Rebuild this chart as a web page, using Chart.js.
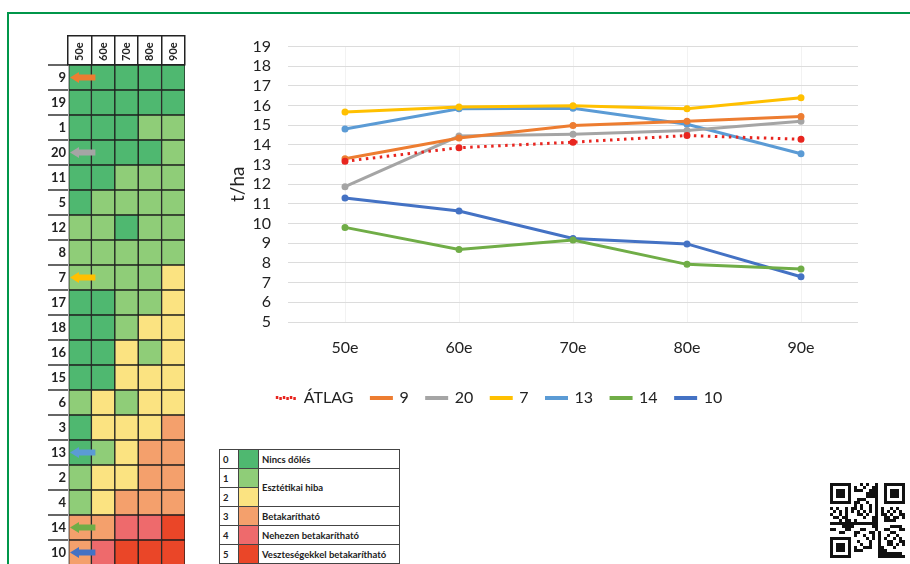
<!DOCTYPE html>
<html lang="hu">
<head>
<meta charset="utf-8">
<script src="https://cdn.jsdelivr.net/npm/chart.js@4.4.1/dist/chart.umd.min.js"></script>
<style>
  html, body { margin: 0; padding: 0; }
  body { width: 910px; height: 564px; overflow: hidden; background: #fff; position: relative; font-family: Lato, "Open Sans", sans-serif; }
  #frame { position: absolute; left: 7px; top: 12px; width: 930px; height: 600px; border-left: 2px solid #00964a; border-top: 2px solid #00964a; }
  #heatWrap { position: absolute; left: 48px; top: 35px; width: 140px; height: 530px; }
  #lineWrap { position: absolute; left: 140px; top: 20px; width: 730px; height: 396px; }
  #keyTable { position: absolute; left: 219px; top: 449px; width: 181px; border-collapse: collapse; font: bold 9.5px Lato, sans-serif; color: #222; }
  #keyTable td { border: 1.5px solid #444; height: 18px; padding: 0 3px; }
  #keyTable td.num { width: 12px; text-align: left; }
  #keyTable td.sw { width: 19px; padding: 0; }
  #qr { position: absolute; left: 830px; top: 483px; }
</style>
</head>
<body>
<div id="frame"></div>
<div id="heatWrap"><canvas id="heat"></canvas></div>
<div id="lineWrap"><canvas id="lines"></canvas></div>
<table id="keyTable"></table>
<canvas id="qr" width="75" height="75"></canvas>
<script>
// évtizedek
const decades = ["50e", "60e", "70e", "80e", "90e"];

// hibrid sorok a táblázatban (fentről lefelé)
const rowLabels = ["9", "19", "1", "20", "11", "5", "12", "8", "7", "17", "18", "16", "15", "6", "3", "13", "2", "4", "14", "10"];

// dőlési fokozat oszloponként (0-5)
const lvl50 = [0, 0, 0, 0, 0, 0, 1, 1, 1, 0, 0, 0, 0, 1, 0, 0, 1, 1, 3, 3];
const lvl60 = [0, 0, 0, 0, 0, 1, 1, 1, 1, 0, 0, 0, 0, 2, 2, 1, 2, 2, 3, 4];
const lvl70 = [0, 0, 0, 0, 1, 1, 0, 1, 1, 1, 1, 2, 2, 1, 2, 2, 2, 3, 4, 5];
const lvl80 = [0, 0, 1, 0, 1, 1, 1, 1, 1, 1, 2, 1, 2, 2, 2, 3, 3, 3, 4, 5];
const lvl90 = [0, 0, 1, 1, 1, 1, 1, 1, 2, 2, 2, 2, 2, 2, 3, 3, 3, 3, 5, 5];
const heatLevels = [lvl50, lvl60, lvl70, lvl80, lvl90];

// jelmagyarázat
const levelNums = ["0", "1", "2", "3", "4", "5"];
const levelColors = ["#4fb870", "#8fcd78", "#fbe381", "#f4a06c", "#ee6a6c", "#ea4628"];
const levelNames = ["Nincs dőlés", "Esztétikai hiba", null, "Betakarítható", "Nehezen betakarítható", "Veszteségekkel betakarítható"];

// termés t/ha
const atlag = [13.17, 13.86, 14.14, 14.48, 14.29];
const s9 = [13.3, 14.35, 14.99, 15.2, 15.45];
const s20 = [11.88, 14.45, 14.54, 14.73, 15.2];
const s7 = [15.68, 15.93, 15.99, 15.84, 16.4];
const s13 = [14.81, 15.84, 15.87, 15.05, 13.55];
const s14 = [9.81, 8.69, 9.17, 7.93, 7.7];
const s10 = [11.3, 10.64, 9.25, 8.97, 7.3];

const seriesNames = ["ÁTLAG", "9", "20", "7", "13", "14", "10"];
const seriesValues = [atlag, s9, s20, s7, s13, s14, s10];
const seriesColors = ["#e8251f", "#ED7D31", "#A5A5A5", "#FFC000", "#5B9BD5", "#70AD47", "#4472C4"];

Chart.defaults.font.family = 'Lato, "Open Sans", sans-serif';

// nyilak a kiemelt sorokhoz + fejléc feliratok
const arrowPlugin = {
  id: "rowArrows",
  afterDatasetsDraw(chart) {
    const { ctx, scales } = chart;
    const x = scales.x, y = scales.y;
    seriesNames.forEach((name, i) => {
      const idx = rowLabels.indexOf(name);
      if (idx < 0) return;
      const cy = y.getPixelForValue(idx);
      const x0 = x.getPixelForValue(0) + 2;
      const x1 = x.getPixelForValue(1) + 4;
      ctx.save();
      ctx.fillStyle = seriesColors[i];
      ctx.beginPath();
      ctx.moveTo(x0, cy);
      ctx.lineTo(x0 + 9, cy - 5.5);
      ctx.lineTo(x0 + 9, cy - 3);
      ctx.lineTo(x1, cy - 3);
      ctx.lineTo(x1, cy + 3);
      ctx.lineTo(x0 + 9, cy + 3);
      ctx.lineTo(x0 + 9, cy + 5.5);
      ctx.closePath();
      ctx.fill();
      ctx.restore();
    });
    ctx.save();
    ctx.strokeStyle = "#222";
    ctx.lineWidth = 1.5;
    ctx.beginPath();
    ctx.moveTo(x.left, 0.75);
    ctx.lineTo(x.right, 0.75);
    ctx.stroke();
    ctx.fillStyle = "#222";
    ctx.font = 'bold 11px Lato, "Open Sans", sans-serif';
    ctx.textAlign = "left";
    ctx.textBaseline = "middle";
    decades.forEach((d, i) => {
      ctx.save();
      ctx.translate(x.getPixelForValue(i + 0.5), chart.chartArea.top - 4);
      ctx.rotate(-Math.PI / 2);
      ctx.fillText(d, 0, 0);
      ctx.restore();
    });
    ctx.restore();
  }
};

const heatDatasets = decades.map((d, i) => ({
  label: d,
  data: rowLabels.map(() => 1),
  backgroundColor: heatLevels[i].map((l) => levelColors[l]),
  borderColor: "#1e1e1e",
  borderWidth: 1,
  borderSkipped: false,
  barPercentage: 1,
  categoryPercentage: 1
}));

new Chart(document.getElementById("heat"), {
  type: "bar",
  data: { labels: rowLabels, datasets: heatDatasets },
  options: {
    indexAxis: "y",
    responsive: true,
    maintainAspectRatio: false,
    animation: false,
    layout: { padding: { top: 0, right: 3, bottom: 0, left: 0 } },
    plugins: { legend: { display: false }, tooltip: { enabled: false } },
    scales: {
      x: {
        type: "linear",
        position: "top",
        stacked: true,
        min: 0,
        max: 5,
        afterBuildTicks: (s) => { s.ticks = [0, 1, 2, 3, 4, 5].map((v) => ({ value: v })); },
        afterFit: (s) => { s.height = 30; },
        grid: { drawOnChartArea: false, drawTicks: true, tickLength: 30, color: "#222", lineWidth: 1.5 },
        border: { display: true, color: "#222", width: 1.5 },
        ticks: { display: false }
      },
      y: {
        type: "category",
        stacked: true,
        afterFit: (s) => { s.width = 20; },
        grid: { drawOnChartArea: false, offset: true, tickLength: 20, color: "#666", lineWidth: 2 },
        border: { display: false },
        ticks: { padding: -18, autoSkip: false, font: { size: 13, weight: "bold" }, color: "#222" }
      }
    }
  },
  plugins: [arrowPlugin]
});

new Chart(document.getElementById("lines"), {
  type: "line",
  data: {
    labels: decades,
    datasets: seriesNames.map((n, i) => ({
      label: n,
      data: seriesValues[i],
      borderColor: seriesColors[i],
      backgroundColor: i === 0 ? "transparent" : seriesColors[i],
      pointBackgroundColor: seriesColors[i],
      pointBorderColor: seriesColors[i],
      pointRadius: 2,
      borderWidth: 3,
      borderDash: i === 0 ? [2.5, 4.5] : [],
      tension: 0
    }))
  },
  options: {
    responsive: true,
    maintainAspectRatio: false,
    animation: false,
    layout: { padding: { top: 15, right: 12, bottom: 0, left: 0 } },
    plugins: {
      tooltip: { enabled: false },
      legend: {
        position: "bottom",
        labels: { boxWidth: 20, boxHeight: 1, padding: 18, font: { size: 16 }, color: "#222" }
      }
    },
    scales: {
      x: {
        offset: true,
        grid: { offset: false, color: "#f2f2f2", drawTicks: false },
        border: { display: false },
        afterFit: (s) => { s.height = 50; },
        ticks: { padding: 16, font: { size: 16 }, color: "#222" }
      },
      y: {
        min: 5,
        max: 19,
        afterFit: (s) => { s.width = 148; },
        grid: { color: "#dcdcdc", drawTicks: false },
        border: { display: false },
        ticks: { stepSize: 1, autoSkip: false, padding: 17, font: { size: 16 }, color: "#222" },
        title: { display: true, text: "t/ha", font: { size: 19 }, color: "#222", padding: { top: 86, bottom: 0 } }
      }
    }
  }
});

// jelmagyarázat táblázat
const keyTable = document.getElementById("keyTable");
levelNums.forEach((num, i) => {
  const tr = document.createElement("tr");
  const tdNum = document.createElement("td");
  tdNum.className = "num";
  tdNum.textContent = num;
  const tdSw = document.createElement("td");
  tdSw.className = "sw";
  tdSw.style.background = levelColors[i];
  tr.appendChild(tdNum);
  tr.appendChild(tdSw);
  if (levelNames[i] !== null) {
    const tdTxt = document.createElement("td");
    tdTxt.textContent = levelNames[i];
    if (levelNames[i + 1] === null) tdTxt.rowSpan = 2;
    tr.appendChild(tdTxt);
  }
  keyTable.appendChild(tr);
});

// QR-kód jellegű díszítés
const qctx = document.getElementById("qr").getContext("2d");
const N = 25, m = 3;
qctx.fillStyle = "#fff";
qctx.fillRect(0, 0, 75, 75);
qctx.fillStyle = "#111";
function finder(cx, cy) {
  qctx.fillStyle = "#111";
  qctx.fillRect(cx * m, cy * m, 7 * m, 7 * m);
  qctx.fillStyle = "#fff";
  qctx.fillRect((cx + 1) * m, (cy + 1) * m, 5 * m, 5 * m);
  qctx.fillStyle = "#111";
  qctx.fillRect((cx + 2) * m, (cy + 2) * m, 3 * m, 3 * m);
}
for (let yy = 0; yy < N; yy++) {
  for (let xx = 0; xx < N; xx++) {
    const inFinder = (xx < 8 && yy < 8) || (xx > N - 9 && yy < 8) || (xx < 8 && yy > N - 9);
    if (inFinder) continue;
    if ((xx * 7 + yy * 11 + xx * yy * 3 + (xx ^ yy)) % 5 < 2) qctx.fillRect(xx * m, yy * m, m, m);
  }
}
finder(0, 0);
finder(N - 7, 0);
finder(0, N - 7);
</script>
</body>
</html>
